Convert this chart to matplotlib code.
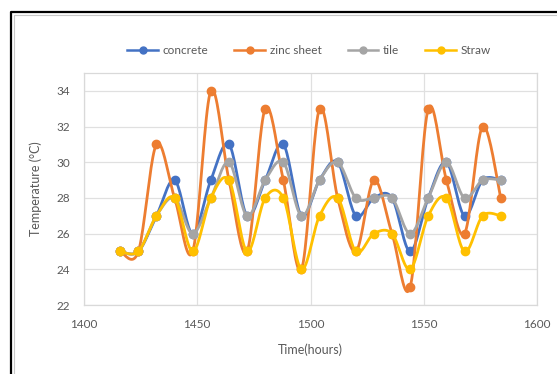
import numpy as np
import matplotlib.pyplot as plt
from matplotlib.lines import Line2D

hours = [1416, 1424, 1432, 1440, 1448, 1456, 1464, 1472, 1480, 1488, 1496,
         1504, 1512, 1520, 1528, 1536, 1544, 1552, 1560, 1568, 1576, 1584]

concrete = [25, 25, 27, 29, 26, 29, 31, 27, 29, 31, 27,
            29, 30, 27, 28, 28, 25, 28, 30, 27, 29, 29]
zinc_sheet = [25, 25, 31, 28, 25, 34, 29, 25, 33, 29, 24,
              33, 28, 25, 29, 26, 23, 33, 29, 26, 32, 28]
tile = [25, 25, 27, 28, 26, 28, 30, 27, 29, 30, 27,
        29, 30, 28, 28, 28, 26, 28, 30, 28, 29, 29]
straw = [25, 25, 27, 28, 25, 28, 29, 25, 28, 28, 24,
         27, 28, 25, 26, 26, 24, 27, 28, 25, 27, 27]

series = [("concrete", concrete, "#4472C4"),
          ("zinc sheet", zinc_sheet, "#ED7D31"),
          ("tile", tile, "#A5A5A5"),
          ("Straw", straw, "#FFC000")]


def smooth(x, y, n=20):
    # Catmull-Rom curve through the points, like a spreadsheet "smoothed line"
    p = np.column_stack([x, y]).astype(float)
    p = np.vstack([p[0], p, p[-1]])
    out = []
    t = np.linspace(0, 1, n, endpoint=False)[:, None]
    for i in range(1, len(p) - 2):
        p0, p1, p2, p3 = p[i - 1], p[i], p[i + 1], p[i + 2]
        seg = 0.5 * ((2 * p1) + (-p0 + p2) * t
                     + (2 * p0 - 5 * p1 + 4 * p2 - p3) * t ** 2
                     + (-p0 + 3 * p1 - 3 * p2 + p3) * t ** 3)
        out.append(seg)
    out.append(p[-2][None, :])
    out = np.vstack(out)
    return out[:, 0], out[:, 1]


plt.rcParams['font.family'] = ['Lato', 'DejaVu Sans']
txt = "#595959"

fig = plt.figure(figsize=(5.57, 3.74), dpi=100)
ax = fig.add_axes([84 / 557, 1 - 305 / 374, (537 - 84) / 557, (305 - 73) / 374])

handles = []
for name, vals, col in series:
    sx, sy = smooth(hours, vals)
    ax.plot(sx, sy, color=col, lw=2.0, zorder=3, solid_capstyle='round')
    ax.plot(hours, vals, 'o', color=col, ms=6, zorder=3)
    handles.append(Line2D([], [], color=col, lw=1.8, marker='o', ms=5, label=name))

ax.set_xlim(1400, 1600)
ax.set_ylim(22, 35)
ax.set_xticks([1400, 1450, 1500, 1550, 1600])
ax.set_yticks(range(22, 35, 2))
ax.grid(True, color="#E0E0E0", lw=0.9)
ax.set_axisbelow(True)
for s in ax.spines.values():
    s.set_color("#D9D9D9")
    s.set_linewidth(0.9)
ax.tick_params(length=0, colors=txt, labelsize=8.5, pad=10)
ax.set_xlabel("Time(hours)", color=txt, fontsize=9, labelpad=10)
ax.set_ylabel("Temperature (°C)", color=txt, fontsize=9, labelpad=10)

fig.legend(handles=handles, loc='center', bbox_to_anchor=(0.555, 1 - 51 / 374),
           ncol=4, frameon=False, fontsize=8.5, handlelength=2.6,
           columnspacing=2.2, handletextpad=0.4, labelcolor=txt)

# chart border
fig.add_artist(Line2D([11 / 557, 11 / 557, 1], [0, 1 - 12 / 374, 1 - 12 / 374],
                      color="black", lw=1.6, transform=fig.transFigure))
fig.add_artist(Line2D([14 / 557, 14 / 557, 1], [0, 1 - 15 / 374, 1 - 15 / 374],
                      color="#C8C8C8", lw=0.8, transform=fig.transFigure))

fig.savefig("out.png", dpi=100)
